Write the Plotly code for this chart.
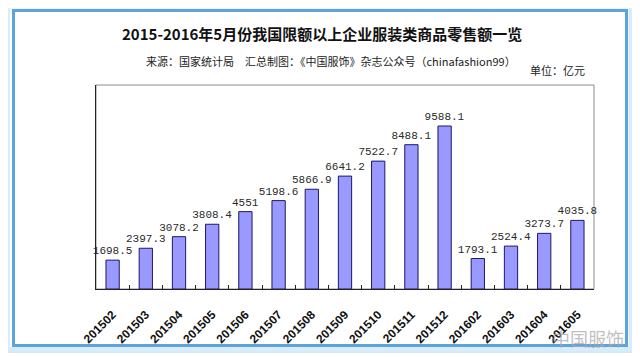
import plotly.graph_objects as go

categories = ["201502", "201503", "201504", "201505", "201506", "201507", "201508",
              "201509", "201510", "201511", "201512", "201602", "201603", "201604", "201605"]
values = [1698.5, 2397.3, 3078.2, 3808.4, 4551, 5198.6, 5866.9,
          6641.2, 7522.7, 8488.1, 9588.1, 1793.1, 2524.4, 3273.7, 4035.8]
labels = ["1698.5", "2397.3", "3078.2", "3808.4", "4551", "5198.6", "5866.9",
          "6641.2", "7522.7", "8488.1", "9588.1", "1793.1", "2524.4", "3273.7", "4035.8"]

OFF = 8  # browser body margin
W, H = 640 - OFF, 357 - OFF
# plot area in page pixels
PL, PR, PT, PB = 96, 594, 85, 289
L, R, T, B = PL - OFF, PR - OFF, PT - OFF, PB - OFF


def px(x):  # page pixel -> paper
    return (x - OFF - L) / (R - L)


def py(y):
    return (B - (y - OFF)) / (B - T)


fig = go.Figure()
fig.add_trace(go.Bar(
    x=categories, y=values, text=labels, textposition="outside",
    constraintext="none",
    textfont=dict(family="Liberation Mono", size=11, color="#2a2a2a"),
    marker=dict(color="#9999ff", line=dict(color="#1a1a66", width=1)),
    width=0.4, cliponaxis=False,
))

shapes = [
    # outer thin frame
    dict(type="rect", xref="paper", yref="paper", x0=px(4), x1=px(634), y0=py(352), y1=py(3.5),
         line=dict(color="#a9d2f2", width=1), fillcolor="rgba(0,0,0,0)", layer="below"),
    # pale band
    dict(type="rect", xref="paper", yref="paper", x0=px(8), x1=px(630.5), y0=py(349), y1=py(6.5),
         line=dict(color="#d8ecfa", width=4), fillcolor="rgba(0,0,0,0)", layer="below"),
    # thick blue frame
    dict(type="rect", xref="paper", yref="paper", x0=px(13.5), x1=px(626.5), y0=py(345.5), y1=py(10.5),
         line=dict(color="#5da3de", width=3), fillcolor="rgba(0,0,0,0)", layer="below"),
    # plot box (gray)
    dict(type="rect", xref="paper", yref="paper", x0=0, x1=1, y0=0, y1=1,
         line=dict(color="#8c8c8c", width=1), fillcolor="rgba(0,0,0,0)", layer="below"),
]

annotations = [
    dict(text="<b>2015-2016年5月份我国限额以上企业服装类商品零售额一览</b>", xref="paper", yref="paper",
         x=px(322), y=py(33), showarrow=False, xanchor="center", yanchor="middle",
         font=dict(family="Noto Sans CJK SC", size=15, color="#111111")),
    dict(text="来源：国家统计局　汇总制图：《中国服饰》杂志公众号（chinafashion99）", xref="paper", yref="paper",
         x=px(331), y=py(61), showarrow=False, xanchor="center", yanchor="middle",
         font=dict(family="Noto Sans CJK SC", size=11, color="#222222")),
    dict(text="单位：亿元", xref="paper", yref="paper",
         x=px(557), y=py(70), showarrow=False, xanchor="center", yanchor="middle",
         font=dict(family="Noto Sans CJK SC", size=11, color="#222222")),
    dict(text="中国服饰", xref="paper", yref="paper",
         x=px(588), y=py(338), showarrow=False, xanchor="center", yanchor="middle",
         font=dict(family="Noto Sans CJK SC", size=18, color="rgba(170,170,170,0.75)")),
]

fig.update_layout(
    width=W, height=H,
    margin=dict(l=L, r=W - R, t=T, b=H - B),
    paper_bgcolor="white", plot_bgcolor="white",
    showlegend=False, shapes=shapes, annotations=annotations,
    bargap=0.6,
)
fig.update_xaxes(
    type="category", tickangle=-45, showline=True, linecolor="#222222", linewidth=1,
    ticks="inside", tickson="boundaries", ticklen=4, tickcolor="#222222",
    tickfont=dict(family="Liberation Sans", size=12, color="#111111", weight="bold"),
    ticklabelstandoff=13,
    showgrid=False, zeroline=False,
)
fig.update_yaxes(
    range=[0, 12000], showline=True, linecolor="#222222", linewidth=1,
    showticklabels=False, ticks="", showgrid=False, zeroline=False,
)

fig.write_html("out.html")
